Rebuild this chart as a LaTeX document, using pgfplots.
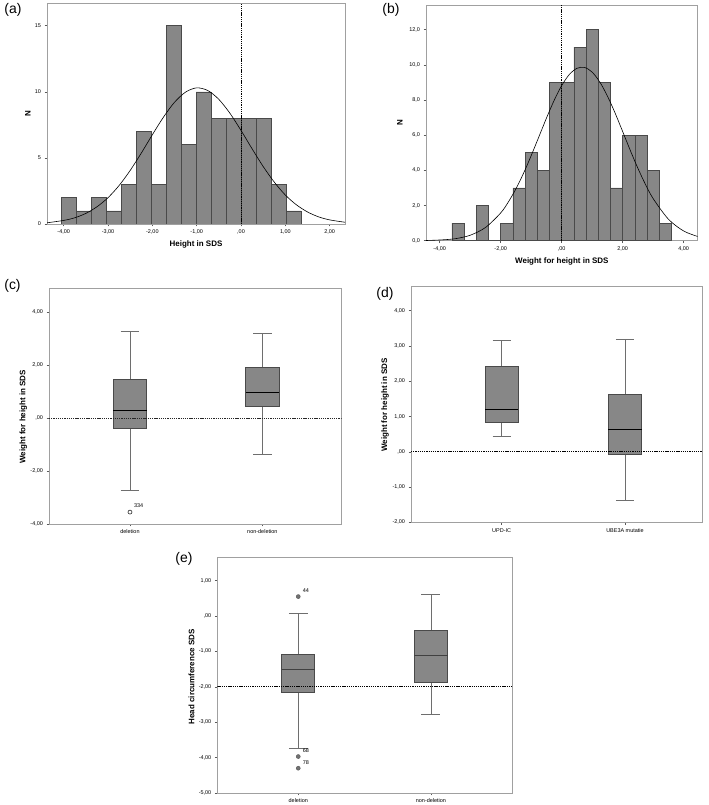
\documentclass[border=0pt]{standalone}
\usepackage{fontspec}
\setmainfont{Liberation Sans}
\usepackage{pgfplots}
\pgfplotsset{compat=1.18}
\usepgfplotslibrary{statistics}
\definecolor{barfill}{HTML}{878787}
\definecolor{baredge}{HTML}{4A4A4A}
\definecolor{frame}{HTML}{A0A0A0}
\definecolor{whisk}{HTML}{6E6E6E}
\pgfplotsset{
  spss/.style={
    scale only axis,
    axis line style={frame, line width=0.6pt},
    tick align=outside,
    xtick pos=bottom, ytick pos=left,
    major tick length=2.5pt,
    tick style={black!65, line width=0.5pt},
    ticklabel style={font=\fontsize{5.5}{6}\selectfont},
    label style={font=\fontsize{8}{9}\selectfont\bfseries},
    boxplot/draw direction=y,
    boxplot/every whisker/.style={whisk, line width=0.7pt},
    boxplot/every box/.style={draw=baredge, fill=barfill, line width=0.7pt},
    boxplot/every median/.style={black, line width=1.1pt},
  },
  refline/.style={black, line width=0.7pt, dash pattern=on 1.3pt off 0.9pt},
}
\begin{document}
\begin{tikzpicture}[x=1bp,y=1bp]
\useasboundingbox (0,0) rectangle (709,805);
% ---------------- (a)
\begin{axis}[spss, at={(47bp,801.7bp)}, anchor=north west, width=298bp, height=220.7bp,
  xmin=-4.376, xmax=2.346, ymin=0, ymax=16.7,
  xtick={-4,-3,-2,-1,0,1,2},
  xticklabels={{-4,00},{-3,00},{-2,00},{-1,00},{,00},{1,00},{2,00}},
  ytick={0,5,10,15}, yticklabels={0,5,10,15},
  xlabel={Height in SDS}, ylabel={N},
  xlabel style={at={(axis description cs:0.5,-0.095)}, anchor=center},
  ylabel style={at={(axis description cs:-0.064,0.5)}, anchor=center}]
\addplot[ybar interval, fill=barfill, draw=baredge, line width=0.5pt] coordinates {
 (-4.05,2) (-3.7125,1) (-3.375,2) (-3.0375,1) (-2.7,3) (-2.3625,7) (-2.025,3)
 (-1.6875,15) (-1.35,6) (-1.0125,10) (-0.675,8) (-0.3375,8) (0,8) (0.3375,8)
 (0.675,3) (1.0125,1) (1.35,1)};
\addplot[refline] coordinates {(0,0) (0,16.7)};
\addplot[smooth, black, line width=0.6pt] coordinates {
 (-4.376,0.09) (-4,0.27) (-3.75,0.47) (-3.5,0.80) (-3.25,1.30) (-3,1.99) (-2.75,2.91)
 (-2.5,4.05) (-2.25,5.36) (-2,6.75) (-1.75,8.08) (-1.5,9.21) (-1.25,9.98) (-1,10.30)
 (-0.75,10.10) (-0.5,9.43) (-0.25,8.38) (0,7.08) (0.25,5.69) (0.5,4.35) (0.75,3.17)
 (1,2.19) (1.25,1.45) (1.5,0.91) (1.75,0.54) (2,0.31) (2.346,0.13)};
\end{axis}
% ---------------- (b)
\begin{axis}[spss, at={(426bp,800bp)}, anchor=north west, width=271.7bp, height=235.7bp,
  xmin=-4.45, xmax=4.46, ymin=0, ymax=13.4,
  xtick={-4,-2,0,2,4},
  xticklabels={{-4,00},{-2,00},{,00},{2,00},{4,00}},
  ytick={0,2,4,6,8,10,12},
  yticklabels={{0,0},{2,0},{4,0},{6,0},{8,0},{10,0},{12,0}},
  xlabel={Weight for height in SDS}, ylabel={N},
  xlabel style={at={(axis description cs:0.5,-0.089)}, anchor=center},
  ylabel style={at={(axis description cs:-0.096,0.5)}, anchor=center}]
\addplot[ybar interval, fill=barfill, draw=baredge, line width=0.5pt] coordinates {
 (-3.6,1) (-3.2,0) (-2.8,2) (-2.4,0) (-2.0,1) (-1.6,3) (-1.2,5) (-0.8,4) (-0.4,9)
 (0,9) (0.4,11) (0.8,12) (1.2,9) (1.6,3) (2.0,6) (2.4,6) (2.8,4) (3.2,1) (3.6,1)};
\addplot[refline] coordinates {(0,0) (0,13.4)};
\addplot[smooth, black, line width=0.6pt] coordinates {
 (-4.45,0.01) (-4,0.04) (-3.5,0.11) (-3,0.31) (-2.5,0.75) (-2,1.58) (-1.75,2.20)
 (-1.5,2.95) (-1.25,3.84) (-1,4.84) (-0.75,5.90) (-0.5,6.97) (-0.25,7.97) (0,8.82)
 (0.25,9.45) (0.5,9.80) (0.75,9.85) (1,9.58) (1.25,9.02) (1.5,8.22) (1.75,7.26)
 (2,6.20) (2.25,5.13) (2.5,4.11) (2.75,3.19) (3,2.39) (3.5,1.22) (4,0.55) (4.46,0.24)};
\end{axis}
% ---------------- (c)
\begin{axis}[spss, at={(49bp,516.7bp)}, anchor=north west, width=292.7bp, height=235.7bp,
  xmin=0.388, xmax=2.6, ymin=-4, ymax=4.91,
  xtick={1,2}, xticklabels={deletion,non-deletion},
  ytick={-4,-2,0,2,4},
  yticklabels={{-4,00},{-2,00},{,00},{2,00},{4,00}},
  ylabel={Weight for height in SDS},
  ylabel style={at={(axis description cs:-0.088,0.455)}, anchor=center}]
\addplot[boxplot prepared={draw position=1, lower whisker=-2.71, lower quartile=-0.40,
  median=0.30, upper quartile=1.46, upper whisker=3.27, box extend=0.25, whisker extend=0.14}]
  coordinates {};
\addplot[boxplot prepared={draw position=2, lower whisker=-1.36, lower quartile=0.44,
  median=0.97, upper quartile=1.91, upper whisker=3.21, box extend=0.25, whisker extend=0.14}]
  coordinates {};
\addplot[refline, black!85] coordinates {(0.388,0) (2.6,0)};
\addplot[only marks, mark=o, mark size=2pt, mark options={black!85, line width=0.6pt},
  point meta=explicit symbolic,
  nodes near coords, nodes near coords style={font=\fontsize{5.5}{6}\selectfont,
  anchor=south west, xshift=0.5bp, yshift=0.5bp, black}]
  coordinates {(1,-3.55) [334]};
\end{axis}
% ---------------- (d)
\begin{axis}[spss, at={(411bp,519bp)}, anchor=north west, width=291.3bp, height=236.3bp,
  xmin=0.265, xmax=2.627, ymin=-2, ymax=4.70,
  xtick={1,2}, xticklabels={UPD-IC,UBE3A mutatie},
  ytick={-2,-1,0,1,2,3,4},
  yticklabels={{-2,00},{-1,00},{,00},{1,00},{2,00},{3,00},{4,00}},
  ylabel={Weight for height in SDS},
  ylabel style={at={(axis description cs:-0.089,0.496)}, anchor=center}]
\addplot[boxplot prepared={draw position=1, lower whisker=0.44, lower quartile=0.83,
  median=1.19, upper quartile=2.41, upper whisker=3.15, box extend=0.27, whisker extend=0.146}]
  coordinates {};
\addplot[boxplot prepared={draw position=2, lower whisker=-1.37, lower quartile=-0.07,
  median=0.62, upper quartile=1.64, upper whisker=3.19, box extend=0.27, whisker extend=0.146}]
  coordinates {};
\addplot[refline] coordinates {(0.265,0) (2.627,0)};
\end{axis}
% ---------------- (e)
\begin{axis}[spss, at={(217.3bp,247.7bp)}, anchor=north west, width=295bp, height=235.7bp,
  xmin=0.39, xmax=2.613, ymin=-5, ymax=1.66,
  xtick={1,2}, xticklabels={deletion,non-deletion},
  ytick={-5,-4,-3,-2,-1,0,1},
  yticklabels={{-5,00},{-4,00},{-3,00},{-2,00},{-1,00},{,00},{1,00}},
  ylabel={Head circumference SDS},
  ylabel style={at={(axis description cs:-0.087,0.493)}, anchor=center},
  boxplot/every median/.style={black!75, line width=1.1pt}]
\addplot[boxplot prepared={draw position=1, lower whisker=-3.75, lower quartile=-2.17,
  median=-1.52, upper quartile=-1.08, upper whisker=0.085, box extend=0.25, whisker extend=0.143}]
  coordinates {};
\addplot[boxplot prepared={draw position=2, lower whisker=-2.78, lower quartile=-1.86,
  median=-1.12, upper quartile=-0.415, upper whisker=0.60, box extend=0.25, whisker extend=0.143}]
  coordinates {};
\addplot[refline] coordinates {(0.39,-2) (2.613,-2)};
\addplot[only marks, mark=*, mark size=2pt, mark options={draw=black!65, fill=black!55, line width=0.5pt},
  point meta=explicit symbolic,
  nodes near coords, nodes near coords style={font=\fontsize{5.5}{6}\selectfont,
  anchor=south west, xshift=1bp, yshift=0.5bp, black}]
  coordinates {(1,0.55) [44] (1,-3.97) [68] (1,-4.30) [78]};
\end{axis}
% panel letters
\node[font=\fontsize{14}{16}\selectfont] at (13,795) {(a)};
\node[font=\fontsize{14}{16}\selectfont] at (391,795) {(b)};
\node[font=\fontsize{14}{16}\selectfont] at (12.5,519.2) {(c)};
\node[font=\fontsize{14}{16}\selectfont] at (385,511) {(d)};
\node[font=\fontsize{14}{16}\selectfont] at (184,246) {(e)};
\end{tikzpicture}
\end{document}
